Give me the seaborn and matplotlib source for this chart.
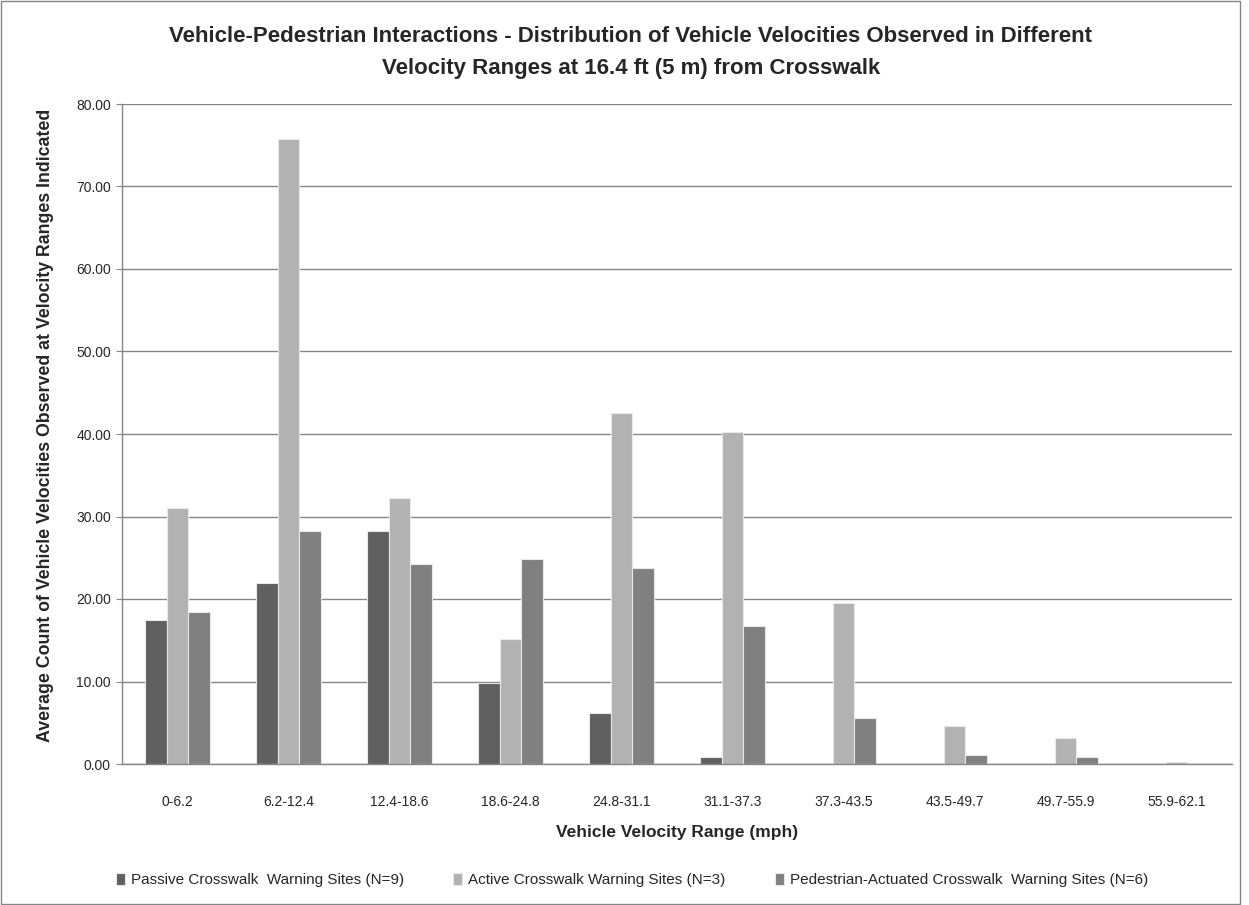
import pandas as pd
import matplotlib.pyplot as plt
import seaborn as sns
from matplotlib.patches import Rectangle

# velocity ranges (mph)
ranges = ["0-6.2", "6.2-12.4", "12.4-18.6", "18.6-24.8", "24.8-31.1",
          "31.1-37.3", "37.3-43.5", "43.5-49.7", "49.7-55.9", "55.9-62.1"]

passive = [17.5, 22.0, 28.2, 9.8, 6.2, 0.9, 0.0, 0.0, 0.0, 0.0]
active = [31.0, 75.8, 32.3, 15.2, 42.6, 40.3, 19.5, 4.6, 3.2, 0.3]
ped_actuated = [18.4, 28.3, 24.2, 24.9, 23.8, 16.7, 5.6, 1.1, 0.9, 0.0]

series_names = ["Passive Crosswalk  Warning Sites (N=9)",
                "Active Crosswalk Warning Sites (N=3)",
                "Pedestrian-Actuated Crosswalk  Warning Sites (N=6)"]
colors = ["#606060", "#b2b2b2", "#808080"]

y_ticks = [0, 10, 20, 30, 40, 50, 60, 70, 80]

# long format for seaborn
df = pd.DataFrame({
    "range": ranges * 3,
    "count": passive + active + ped_actuated,
    "site": [series_names[0]] * 10 + [series_names[1]] * 10 + [series_names[2]] * 10,
})

sns.set_style("white")
plt.rcParams["font.family"] = ["Liberation Sans", "DejaVu Sans"]

fig = plt.figure(figsize=(12.49, 9.05), dpi=100)
ax = fig.add_axes([122 / 1249, 141 / 905, 1110 / 1249, 660 / 905])

sns.barplot(data=df, x="range", y="count", hue="site", order=ranges,
            hue_order=series_names, palette=colors, width=0.58, gap=0,
            saturation=1, edgecolor="#e8e8e8", linewidth=0.8, ax=ax)

ax.set_ylim(0, 80)
ax.set_xlim(-0.5, len(ranges) - 0.5)
ax.set_yticks(y_ticks)
ax.set_yticklabels([f"{v:.2f}" for v in y_ticks], fontsize=10)
ax.tick_params(axis="x", labelsize=10, length=0, pad=22)
ax.tick_params(axis="y", length=4, color="#868686", left=True, pad=4)
ax.yaxis.grid(True, color="#868686", linewidth=1)
ax.set_axisbelow(True)

for side in ["top", "right"]:
    ax.spines[side].set_visible(False)
for side in ["left", "bottom"]:
    ax.spines[side].set_color("#868686")
    ax.spines[side].set_linewidth(1)

ax.set_xlabel("Vehicle Velocity Range (mph)", fontsize=12.5, fontweight="bold", labelpad=12)
ax.set_ylabel("Average Count of Vehicle Velocities Observed at Velocity Ranges Indicated",
              fontsize=12.8, fontweight="bold")
ax.yaxis.set_label_coords(-0.061, 0.513)

fig.text(0.505, 0.960, "Vehicle-Pedestrian Interactions - Distribution of Vehicle Velocities Observed in Different",
         ha="center", va="center", fontsize=16, fontweight="bold")
fig.text(0.505, 0.924, "Velocity Ranges at 16.4 ft (5 m) from Crosswalk",
         ha="center", va="center", fontsize=16, fontweight="bold")

sns.move_legend(ax, "center", bbox_to_anchor=(0.506, 25 / 905), bbox_transform=fig.transFigure,
                ncol=3, frameon=False, title=None, fontsize=11,
                handlelength=0.6, handleheight=0.8, handletextpad=0.4, columnspacing=3.2)

# chart area border
fig.patches.append(Rectangle((0.001, 0.001), 0.992, 0.998, transform=fig.transFigure,
                             fill=False, edgecolor="#868686", linewidth=1))

fig.savefig("out.png", dpi=100)
